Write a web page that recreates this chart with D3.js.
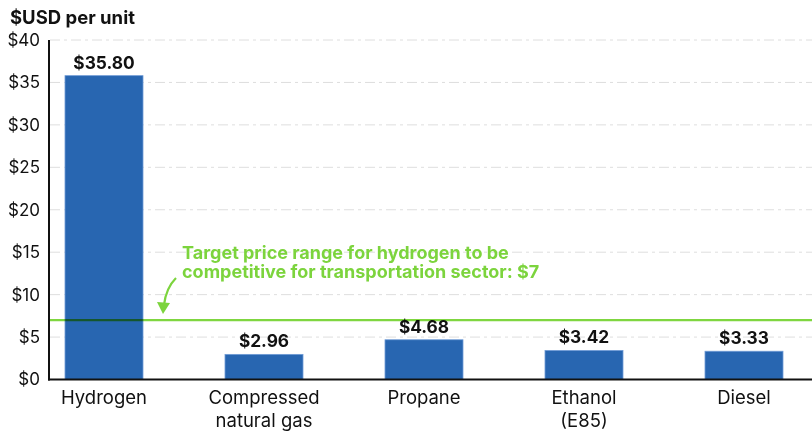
<!DOCTYPE html>
<html><head><meta charset="utf-8">
<script src="https://cdn.jsdelivr.net/npm/d3@7/dist/d3.min.js"></script>
<style>body{margin:0;background:#fff;}svg{display:block;font-family:Inter,"Liberation Sans",Arial,sans-serif;}</style>
</head><body>
<svg id="c" width="812" height="432"></svg>
<script>
const categories = [["Hydrogen"], ["Compressed", "natural gas"], ["Propane"], ["Ethanol", "(E85)"], ["Diesel"]];
const values = [35.80, 2.96, 4.68, 3.42, 3.33];
const valueLabels = ["$35.80", "$2.96", "$4.68", "$3.42", "$3.33"];
const yTicks = [0, 5, 10, 15, 20, 25, 30, 35, 40];
const targetValue = 7;
const annotationLines = ["Target price range for hydrogen to be", "competitive for transportation sector: $7"];
const titleText = "$USD per unit";

const svg = d3.select("#c");
const W = 812;
const y = d3.scaleLinear().domain([0, 40]).range([379.5, 40]);
const keys = categories.map(c => c.join(" "));
const x = d3.scaleBand().domain(keys).range([50, 798]).paddingInner(0.5125).paddingOuter(0.09375);

// gridlines
svg.append("g").selectAll("line").data(yTicks.filter(t => t > 0)).join("line")
  .attr("x1", 50).attr("x2", W).attr("y1", d => y(d)).attr("y2", d => y(d))
  .attr("stroke", "#dedede").attr("stroke-width", 1).attr("stroke-dasharray", "10,4,3,4");

// y axis labels
const yAxis = d3.axisLeft(y).tickValues(yTicks).tickFormat(d => "$" + d).tickSize(0).tickPadding(9);
const ga = svg.append("g").attr("transform", "translate(49,0)").call(yAxis);
ga.select(".domain").remove();
ga.selectAll("text").attr("font-size", 17).attr("fill", "#111").attr("font-family", "Inter, Liberation Sans, Arial, sans-serif");

// bars
svg.append("g").selectAll("rect").data(values).join("rect")
  .attr("x", (d, i) => x(keys[i])).attr("width", x.bandwidth())
  .attr("y", d => y(d)).attr("height", d => y(0) - y(d))
  .attr("fill", "#2866b1").attr("stroke", "#6f9bd6").attr("stroke-width", 0.8);

// value labels
svg.append("g").selectAll("text").data(values).join("text")
  .attr("x", (d, i) => x(keys[i]) + x.bandwidth() / 2).attr("y", d => y(d) - 7)
  .attr("text-anchor", "middle").attr("font-size", 17.3).attr("font-weight", "bold").attr("fill", "#111")
  .text((d, i) => valueLabels[i]);

// target line
svg.append("line").attr("x1", 50).attr("x2", W).attr("y1", y(targetValue)).attr("y2", y(targetValue))
  .attr("stroke", "#7fd640").attr("stroke-width", 2.2).style("mix-blend-mode", "multiply");

// axes lines
svg.append("line").attr("x1", 49).attr("x2", 49).attr("y1", 40).attr("y2", y(0) + 1).attr("stroke", "#111").attr("stroke-width", 2);
svg.append("line").attr("x1", 48).attr("x2", W).attr("y1", y(0)).attr("y2", y(0)).attr("stroke", "#111").attr("stroke-width", 2);

// x labels
const xl = svg.append("g").selectAll("text").data(categories).join("text")
  .attr("x", (d, i) => x(keys[i]) + x.bandwidth() / 2).attr("y", 404)
  .attr("text-anchor", "middle").attr("font-size", 18.5).attr("fill", "#111");
xl.selectAll("tspan").data(d => d).join("tspan")
  .attr("x", function () { return this.parentNode.getAttribute("x"); })
  .attr("dy", (d, i) => i === 0 ? 0 : 23).text(d => d);

// annotation
const green = "#7cd43d";
svg.append("g").selectAll("text").data(annotationLines).join("text")
  .attr("x", 182).attr("y", (d, i) => 259 + i * 19)
  .attr("font-size", 18).attr("font-weight", "bold").attr("fill", green).text(d => d);
svg.append("path").attr("d", "M176,278 Q166,288 164,305").attr("fill", "none").attr("stroke", green).attr("stroke-width", 2.2);
svg.append("path").attr("d", "M157,302 L163,314 L170,303 Z").attr("fill", green);

// title
svg.append("text").attr("x", 10).attr("y", 24).attr("font-size", 18.5).attr("font-weight", "bold").attr("fill", "#111").text(titleText);
</script>
</body></html>
